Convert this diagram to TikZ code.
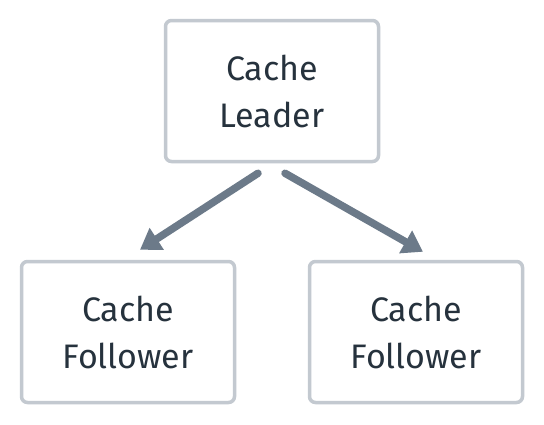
\documentclass[tikz,border=0pt]{standalone}
\usepackage{fontspec}
\setmainfont{Fira Sans}
\usetikzlibrary{arrows.meta}
\definecolor{boxline}{HTML}{C3C9D0}
\definecolor{arrcol}{HTML}{6C7A89}
\definecolor{txt}{HTML}{26323D}
\tikzset{
  box/.style={draw=boxline, line width=3.5pt, rounded corners=6pt, fill=white,
    minimum width=213pt, minimum height=141pt, align=center, text=txt,
    font=\fontsize{34}{47}\selectfont},
  arr/.style={draw=arrcol, line width=7.5pt, line cap=round,
    -{Triangle[length=20pt,width=25pt]}}
}
\begin{document}
\begin{tikzpicture}[x=1pt,y=1pt]
\useasboundingbox[fill=white] (0,0) rectangle (544,-424);
\node[box] (top) at (272,-91) {Cache\\Leader};
\node[box] (l) at (128,-332) {Cache\\Follower};
\node[box] (r) at (416,-332) {Cache\\Follower};
\draw[arr] ([xshift=-14pt,yshift=-10pt]top.south) -- ([xshift=12pt,yshift=10pt]l.north);
\draw[arr] ([xshift=13pt,yshift=-10pt]top.south) -- ([xshift=7pt,yshift=8pt]r.north);
\end{tikzpicture}
\end{document}
